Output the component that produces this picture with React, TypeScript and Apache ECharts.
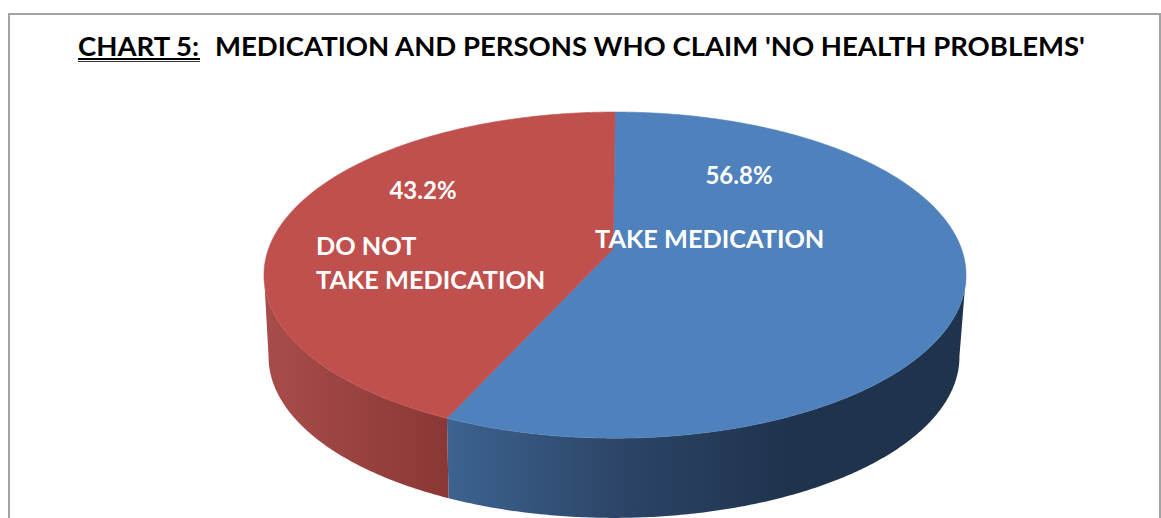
import React, { useEffect, useRef } from "react";
import * as echarts from "echarts";

const sliceNames = ["TAKE MEDICATION", "DO NOT\nTAKE MEDICATION"];
const sliceValues = [56.8, 43.2];
const percentLabels = ["56.8%", "43.2%"];
const topColors = ["#4f81bd", "#c0504d"];
const titleLead = "CHART 5:";
const titleMain = "MEDICATION AND PERSONS WHO CLAIM 'NO HEALTH PROBLEMS'";

const FONT = "Lato, 'Open Sans', sans-serif";
const PERSP = 0.16;
const TOP = { cx: 615, cy: 249, rx: 346.5, ry: 158.9 };
const BASE = { cx: 614, cy: 331, rx: 341, ry: 157 };
const VIS_FROM = 99;
const VIS_TO = 261;

const sideFill = [
  {
    type: "linear", global: true, x: 448, y: 0, x2: 790, y2: 0,
    colorStops: [
      { offset: 0, color: "#3d6390" },
      { offset: 0.5, color: "#2c4567" },
      { offset: 1, color: "#1f334d" },
    ],
  },
  {
    type: "linear", global: true, x: 268, y: 0, x2: 448, y2: 0,
    colorStops: [
      { offset: 0, color: "#a84c49" },
      { offset: 1, color: "#8a3835" },
    ],
  },
];
const labelPos = [
  { pct: [739, 174], name: [595, 238] },
  { pct: [423, 189], name: [316, 262] },
];

function project(e: typeof TOP, deg: number): [number, number] {
  const a = (deg * Math.PI) / 180;
  const u = Math.sin(a);
  const v = Math.cos(a);
  const w = 1 + PERSP * v;
  return [e.cx + (e.rx * u) / w, e.cy - (e.ry * v) / w];
}

function arc(e: typeof TOP, from: number, to: number): [number, number][] {
  const pts: [number, number][] = [];
  const n = Math.max(2, Math.ceil(Math.abs(to - from) * 2));
  for (let i = 0; i <= n; i++) pts.push(project(e, from + ((to - from) * i) / n));
  return pts;
}

function toPath(pts: [number, number][]): string {
  return (
    pts.map((p, i) => `${i ? "L" : "M"}${p[0].toFixed(2)} ${p[1].toFixed(2)}`).join(" ") + " Z"
  );
}

function renderSlice(params: any, api: any) {
  const idx = params.dataIndex;
  const total = sliceValues.reduce((s, v) => s + v, 0);
  const before = sliceValues.slice(0, idx).reduce((s, v) => s + v, 0);
  const start = (before / total) * 360;
  const end = ((before + api.value(0)) / total) * 360;
  const children: any[] = [];

  const sFrom = Math.max(start, VIS_FROM);
  const sTo = Math.min(end, VIS_TO);
  if (sTo > sFrom) {
    const pts = [...arc(TOP, sFrom, sTo), ...arc(BASE, sTo, sFrom)];
    children.push({
      type: "path",
      shape: { pathData: toPath(pts) },
      style: { fill: sideFill[idx] },
    });
  }
  const topPts: [number, number][] = [[TOP.cx - 2, TOP.cy], ...arc(TOP, start, end)];
  children.push({
    type: "path",
    shape: { pathData: toPath(topPts) },
    style: { fill: topColors[idx], stroke: topColors[idx], lineWidth: 0.6 },
  });
  const pos = labelPos[idx];
  children.push({
    type: "text",
    x: pos.pct[0],
    y: pos.pct[1],
    z2: 20,
    style: {
      text: percentLabels[idx], fill: "#fff", font: `bold 24px ${FONT}`,
      align: "center", verticalAlign: "middle",
    },
  });
  children.push({
    type: "text",
    x: pos.name[0],
    y: pos.name[1],
    z2: 20,
    style: {
      text: sliceNames[idx], fill: "#fff", font: `bold 25.3px ${FONT}`, lineHeight: 34,
      align: "left", verticalAlign: "middle",
    },
  });
  return { type: "group", children };
}

export default function App() {
  const ref = useRef<HTMLDivElement>(null);
  useEffect(() => {
    const chart = echarts.init(ref.current!, undefined, { renderer: "svg" });
    chart.setOption({
      animation: false,
      backgroundColor: "#fff",
      title: [
        {
          text: titleLead, left: 73, top: 26,
          textStyle: { fontFamily: FONT, fontWeight: "bold", fontSize: 27.5, color: "#000" },
        },
        {
          text: titleMain, left: 210, top: 26,
          textStyle: { fontFamily: FONT, fontWeight: "bold", fontSize: 27.5, color: "#000" },
        },
      ],
      graphic: [
        {
          type: "rect", silent: true, z: 0,
          shape: { x: 9, y: 14, width: 1151, height: 600 },
          style: { fill: "none", stroke: "#a3a3a3", lineWidth: 2 },
        },
        {
          type: "rect", silent: true, z: 5,
          shape: { x: 78, y: 58, width: 122, height: 2 },
          style: { fill: "#000" },
        },
        {
          type: "rect", silent: true, z: 5,
          shape: { x: 78, y: 61, width: 122, height: 1 },
          style: { fill: "#333" },
        },
      ],
      series: [
        {
          type: "custom",
          coordinateSystem: "none",
          renderItem: renderSlice,
          data: sliceValues.map((v, i) => ({ name: sliceNames[i], value: [v] })),
          silent: true,
        },
      ],
    });
    return () => chart.dispose();
  }, []);
  return (
    <div
      ref={ref}
      style={{ position: "absolute", left: 0, top: 0, width: 1161, height: 518 }}
    />
  );
}
